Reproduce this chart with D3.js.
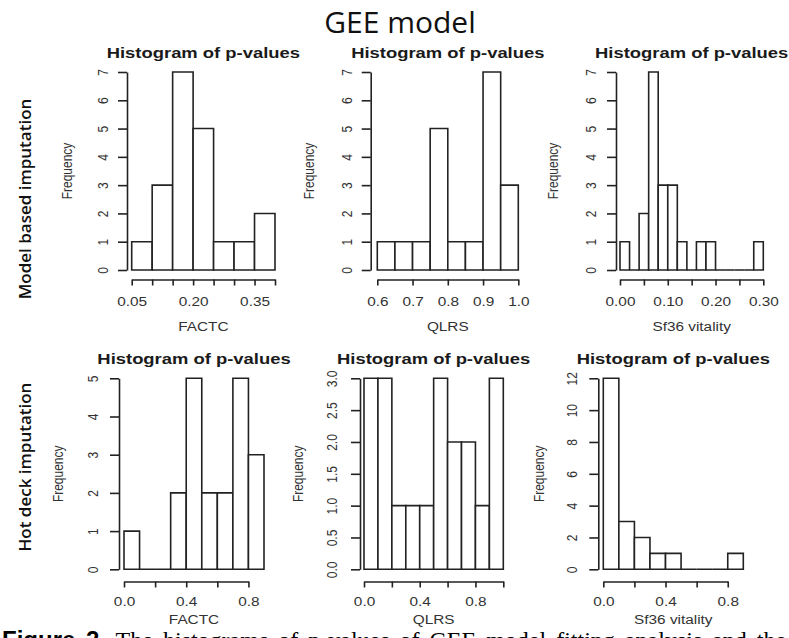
<!DOCTYPE html>
<html>
<head>
<meta charset="utf-8">
<script src="https://cdn.jsdelivr.net/npm/d3@7"></script>
<style>
  html, body { margin: 0; padding: 0; background: #fff; }
  svg { display: block; }
</style>
</head>
<body>
<svg id="fig" width="789" height="638"></svg>
<script>
// ---------------- data ----------------
const figureTitle = "GEE model";
const rowLabels = ["Model based imputation", "Hot deck imputation"];
const panelTitle = "Histogram of p-values";
const outcomes = ["FACTC", "QLRS", "Sf36 vitality"];
const yAxisLabel = "Frequency";
const captionLead = "Figure 2.";
const captionText = " The histograms of p-values of GEE model fitting analysis and the";

// Model based imputation
const factcModelBreaks = [0.05, 0.10, 0.15, 0.20, 0.25, 0.30, 0.35, 0.40];
const factcModelCounts = [1, 3, 7, 5, 1, 1, 2];
const factcModelXTicks = [0.05, 0.10, 0.15, 0.20, 0.25, 0.30, 0.35, 0.40];
const factcModelXLabels = [0.05, 0.20, 0.35];
const factcModelYTicks = [0, 1, 2, 3, 4, 5, 6, 7];

const qlrsModelBreaks = [0.60, 0.65, 0.70, 0.75, 0.80, 0.85, 0.90, 0.95, 1.00];
const qlrsModelCounts = [1, 1, 1, 5, 1, 1, 7, 3];
const qlrsModelXTicks = [0.6, 0.7, 0.8, 0.9, 1.0];
const qlrsModelXLabels = [0.6, 0.7, 0.8, 0.9, 1.0];
const qlrsModelYTicks = [0, 1, 2, 3, 4, 5, 6, 7];

const sf36ModelBreaks = [0.00, 0.02, 0.04, 0.06, 0.08, 0.10, 0.12, 0.14, 0.16, 0.18, 0.20, 0.22, 0.24, 0.26, 0.28, 0.30];
const sf36ModelCounts = [1, 0, 2, 7, 3, 3, 1, 0, 1, 1, 0, 0, 0, 0, 1];
const sf36ModelXTicks = [0.00, 0.05, 0.10, 0.15, 0.20, 0.25, 0.30];
const sf36ModelXLabels = [0.00, 0.10, 0.20, 0.30];
const sf36ModelYTicks = [0, 1, 2, 3, 4, 5, 6, 7];

// Hot deck imputation
const factcHotBreaks = [0.0, 0.1, 0.2, 0.3, 0.4, 0.5, 0.6, 0.7, 0.8, 0.9];
const factcHotCounts = [1, 0, 0, 2, 5, 2, 2, 5, 3];
const factcHotXTicks = [0.0, 0.2, 0.4, 0.6, 0.8];
const factcHotXLabels = [0.0, 0.4, 0.8];
const factcHotYTicks = [0, 1, 2, 3, 4, 5];

const qlrsHotBreaks = [0.0, 0.1, 0.2, 0.3, 0.4, 0.5, 0.6, 0.7, 0.8, 0.9, 1.0];
const qlrsHotCounts = [3, 3, 1, 1, 1, 3, 2, 2, 1, 3];
const qlrsHotXTicks = [0.0, 0.2, 0.4, 0.6, 0.8, 1.0];
const qlrsHotXLabels = [0.0, 0.4, 0.8];
const qlrsHotYTicks = [0.0, 0.5, 1.0, 1.5, 2.0, 2.5, 3.0];

const sf36HotBreaks = [0.0, 0.1, 0.2, 0.3, 0.4, 0.5, 0.6, 0.7, 0.8, 0.9];
const sf36HotCounts = [12, 3, 2, 1, 1, 0, 0, 0, 1];
const sf36HotXTicks = [0.0, 0.2, 0.4, 0.6, 0.8];
const sf36HotXLabels = [0.0, 0.4, 0.8];
const sf36HotYTicks = [0, 2, 4, 6, 8, 10, 12];

const panels = [
  { row: 0, col: 0, breaks: factcModelBreaks, counts: factcModelCounts, xTicks: factcModelXTicks, xLabels: factcModelXLabels, yTicks: factcModelYTicks, xFmt: ".2f", yFmt: "d" },
  { row: 0, col: 1, breaks: qlrsModelBreaks,  counts: qlrsModelCounts,  xTicks: qlrsModelXTicks,  xLabels: qlrsModelXLabels,  yTicks: qlrsModelYTicks,  xFmt: ".1f", yFmt: "d" },
  { row: 0, col: 2, breaks: sf36ModelBreaks,  counts: sf36ModelCounts,  xTicks: sf36ModelXTicks,  xLabels: sf36ModelXLabels,  yTicks: sf36ModelYTicks,  xFmt: ".2f", yFmt: "d" },
  { row: 1, col: 0, breaks: factcHotBreaks,   counts: factcHotCounts,   xTicks: factcHotXTicks,   xLabels: factcHotXLabels,   yTicks: factcHotYTicks,   xFmt: ".1f", yFmt: "d" },
  { row: 1, col: 1, breaks: qlrsHotBreaks,    counts: qlrsHotCounts,    xTicks: qlrsHotXTicks,    xLabels: qlrsHotXLabels,    yTicks: qlrsHotYTicks,    xFmt: ".1f", yFmt: ".1f" },
  { row: 1, col: 2, breaks: sf36HotBreaks,    counts: sf36HotCounts,    xTicks: sf36HotXTicks,    xLabels: sf36HotXLabels,    yTicks: sf36HotYTicks,    xFmt: ".1f", yFmt: "d" }
];

// ---------------- layout ----------------
const STRETCH = 1.28;          // horizontal stretch of the R device text
const INK = "#222";
const TEXT = "#333";
const BASE_FONT = "'Liberation Sans', Arial, sans-serif";

const rowGeom = [
  { titleY: 58,  yTopPx: 72,    yZeroPx: 270,   xAxisPx: 279.5, tickLabelY: 306, xNameY: 331 },
  { titleY: 364, yTopPx: 378.3, yZeroPx: 569.3, xAxisPx: 581.5, tickLabelY: 606, xNameY: 624 }
];
const colGeom = [
  [ { axisX: 127,   barL: 131.7, barR: 275,   tickOff: 24, freqOff: 60 },
    { axisX: 370.7, barL: 377.3, barR: 518.3, tickOff: 24, freqOff: 62 },
    { axisX: 616,   barL: 620,   barR: 763.3, tickOff: 25, freqOff: 63 } ],
  [ { axisX: 119,   barL: 124,   barR: 264,   tickOff: 26, freqOff: 61 },
    { axisX: 360,   barL: 364,   barR: 503.3, tickOff: 28, freqOff: 62 },
    { axisX: 598.3, barL: 603.3, barR: 743.3, tickOff: 26, freqOff: 59 } ]
];

const svg = d3.select("#fig");
svg.append("rect").attr("width", 789).attr("height", 638).attr("fill", "#fff");

// figure heading
svg.append("text")
  .attr("x", 400).attr("y", 33)
  .attr("text-anchor", "middle")
  .style("font-family", "'Open Sans', 'Noto Sans', sans-serif")
  .style("font-size", "30px")
  .attr("fill", "#111")
  .text(figureTitle);

// row labels
const rowLabelPos = [{ x: 24, y: 199 }, { x: 24, y: 467 }];
rowLabels.forEach((lab, i) => {
  svg.append("text")
    .attr("transform", `translate(${rowLabelPos[i].x},${rowLabelPos[i].y}) rotate(-90)`)
    .attr("text-anchor", "middle")
    .attr("dominant-baseline", "central")
    .style("font-family", "'Open Sans', 'Noto Sans', sans-serif")
    .style("font-size", "17px")
    .style("font-weight", 600)
    .attr("fill", "#111")
    .text(lab);
});

const near = (arr, v) => arr.some(a => Math.abs(a - v) < 1e-9);

panels.forEach(p => {
  const rg = rowGeom[p.row];
  const cg = colGeom[p.row][p.col];
  const g = svg.append("g");

  const x = d3.scaleLinear()
    .domain([p.breaks[0], p.breaks[p.breaks.length - 1]])
    .range([cg.barL, cg.barR]);
  const y = d3.scaleLinear()
    .domain([0, p.yTicks[p.yTicks.length - 1]])
    .range([rg.yZeroPx, rg.yTopPx]);

  // bars: one closed outline per bin, empty bins collapse onto the baseline
  const bins = p.counts.map((c, i) => ({ x0: p.breaks[i], x1: p.breaks[i + 1], n: c }));
  g.selectAll("path.bar").data(bins).join("path")
    .attr("class", "bar")
    .attr("d", d => `M${x(d.x0)},${y(0)}V${y(d.n)}H${x(d.x1)}V${y(0)}Z`)
    .attr("fill", "#fff")
    .attr("stroke", INK)
    .attr("stroke-width", 1.6)
    .attr("stroke-linejoin", "miter");

  // x axis, detached below the bars and spanning the tick range only
  const xt0 = p.xTicks[0], xt1 = p.xTicks[p.xTicks.length - 1];
  const xAxisScale = x.copy().domain([xt0, xt1]).range([x(xt0), x(xt1)]);
  const fx = d3.format(p.xFmt);
  const xa = g.append("g")
    .attr("transform", `translate(0,${rg.xAxisPx})`)
    .call(d3.axisBottom(xAxisScale)
      .tickValues(p.xTicks)
      .tickSize(6)
      .tickSizeOuter(0)
      .tickFormat(d => near(p.xLabels, d) ? fx(d) : ""));
  xa.selectAll("text")
    .attr("y", rg.tickLabelY - rg.xAxisPx)
    .attr("dy", null)
    .attr("transform", `scale(${STRETCH},1)`);

  // y axis, detached left of the bars
  const fy = d3.format(p.yFmt);
  const ya = g.append("g")
    .attr("transform", `translate(${cg.axisX},0)`)
    .call(d3.axisLeft(y)
      .tickValues(p.yTicks)
      .tickSize(9)
      .tickSizeOuter(0)
      .tickFormat(fy));
  ya.selectAll("text")
    .attr("x", null).attr("dy", null)
    .attr("transform", `translate(${-cg.tickOff},0) scale(${STRETCH},1) rotate(-90)`)
    .attr("text-anchor", "middle")
    .attr("dominant-baseline", "central");

  [xa, ya].forEach(a => {
    a.select(".domain").attr("stroke", INK).attr("stroke-width", 1.6);
    a.selectAll(".tick line").attr("stroke", INK).attr("stroke-width", 1.6);
    a.selectAll("text")
      .attr("fill", TEXT)
      .style("font-family", BASE_FONT)
      .style("font-size", "12px");
  });

  const cx = (cg.barL + cg.barR) / 2;

  // panel title
  g.append("text")
    .attr("transform", `translate(${cx},${rg.titleY}) scale(${STRETCH},1)`)
    .attr("text-anchor", "middle")
    .style("font-family", BASE_FONT)
    .style("font-size", "14.4px")
    .style("font-weight", "bold")
    .attr("fill", "#1a1a1a")
    .text(panelTitle);

  // x axis name
  g.append("text")
    .attr("transform", `translate(${cx},${rg.xNameY}) scale(${STRETCH},1)`)
    .attr("text-anchor", "middle")
    .style("font-family", BASE_FONT)
    .style("font-size", "12px")
    .attr("fill", TEXT)
    .text(outcomes[p.col]);

  // y axis name
  g.append("text")
    .attr("transform", `translate(${cg.axisX - cg.freqOff},${(rg.yZeroPx + rg.yTopPx) / 2}) scale(${STRETCH},1) rotate(-90)`)
    .attr("text-anchor", "middle")
    .attr("dominant-baseline", "central")
    .style("font-family", BASE_FONT)
    .style("font-size", "12px")
    .attr("fill", TEXT)
    .text(yAxisLabel);
});

// caption line (justified), running off the bottom edge
const cap = svg.append("text")
  .attr("x", 2).attr("y", 648)
  .style("font-size", "24px")
  .style("word-spacing", "4px")
  .attr("fill", "#000");
cap.append("tspan")
  .style("font-family", BASE_FONT)
  .style("font-weight", "bold")
  .text(captionLead);
cap.append("tspan")
  .style("font-family", "'Liberation Serif', 'Times New Roman', serif")
  .text(captionText);
</script>
</body>
</html>
